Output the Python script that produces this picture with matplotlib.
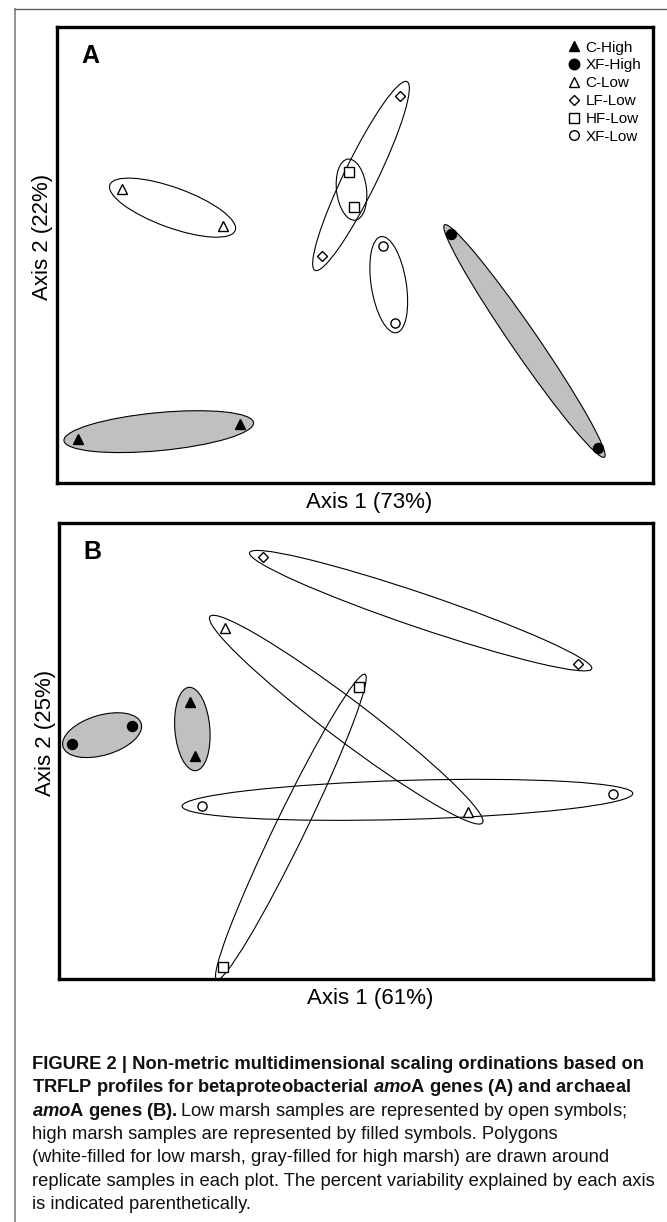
import numpy as np
import matplotlib
matplotlib.use('Agg')
import matplotlib.pyplot as plt
from matplotlib.patches import Ellipse
from matplotlib.lines import Line2D

# NMDS scores (arbitrary units), two replicates per group
groups = ['C-High', 'XF-High', 'C-Low', 'LF-Low', 'HF-Low', 'XF-Low']

a_x = [[20.9, 182.6], [394.0, 540.9], [65.1, 166.0], [343.0, 265.0], [292.4, 296.6], [325.6, 337.9]]
a_y = [[43.7, 59.0], [248.7, 35.3], [293.7, 257.0], [387.0, 227.0], [311.0, 275.7], [237.0, 159.7]]

b_x = [[131.2, 135.5], [13.3, 72.9], [165.7, 408.7], [204.4, 518.9], [299.7, 164.0], [143.1, 553.8]]
b_y = [[276.7, 223.3], [235.0, 252.7], [351.3, 167.3], [421.7, 315.0], [291.7, 12.3], [173.3, 185.0]]

a_axis = ['Axis 1 (73%)', 'Axis 2 (22%)']
b_axis = ['Axis 1 (61%)', 'Axis 2 (25%)']

# styles
marker_style = {
    'C-High': dict(marker='^', mfc='black', ms=7.4),
    'XF-High': dict(marker='o', mfc='black', ms=7.2),
    'C-Low': dict(marker='^', mfc='white', ms=6.8),
    'LF-Low': dict(marker='D', mfc='white', ms=5.2),
    'HF-Low': dict(marker='s', mfc='white', ms=6.8),
    'XF-Low': dict(marker='o', mfc='white', ms=6.6),
}
# extra half-length beyond the points, half-width of each ring
a_ring = [(14, 19), (11.5, 13), (13, 20), (16, 16.5), (13, 15), (9.5, 17.5)]
b_ring = [(15, 17.5), (9.7, 20), (18.5, 20), (14.6, 17), (14.4, 15), (20, 19.5)]

plt.rcParams['font.family'] = ['Liberation Sans', 'DejaVu Sans']
plt.rcParams['mathtext.fontset'] = 'custom'
plt.rcParams['mathtext.rm'] = 'Liberation Sans'
plt.rcParams['mathtext.it'] = 'Liberation Sans:italic'
plt.rcParams['mathtext.bf'] = 'Liberation Sans:bold'
plt.rcParams['mathtext.bfit'] = 'Liberation Sans:bold:italic'

W, H = 667, 1222
fig = plt.figure(figsize=(W / 100, H / 100), dpi=100)


def panel(left, top, right, bottom, xs, ys, rings, letter, labels, legend=False):
    ax = fig.add_axes([left / W, 1 - bottom / H, (right - left) / W, (bottom - top) / H])
    ax.set_xlim(0, right - left)
    ax.set_ylim(0, bottom - top)
    for i, g in enumerate(groups):
        x1, x2 = xs[i]
        y1, y2 = ys[i]
        pad, half = rings[i]
        dist = np.hypot(x2 - x1, y2 - y1)
        ang = np.degrees(np.arctan2(y2 - y1, x2 - x1))
        face = '#c0c0c0' if g.endswith('High') else 'none'
        ax.add_patch(Ellipse(((x1 + x2) / 2, (y1 + y2) / 2), dist + 2 * pad, 2 * half,
                             angle=ang, facecolor=face, edgecolor='black', lw=0.8, zorder=2))
    for i, g in enumerate(groups):
        st = marker_style[g]
        ax.plot(xs[i], ys[i], ls='none', marker=st['marker'], ms=st['ms'],
                mfc=st['mfc'], mec='black', mew=1.0, zorder=3)
    for s in ax.spines.values():
        s.set_linewidth(2.4)
    ax.set_xticks([])
    ax.set_yticks([])
    ax.text(0.041, 1 - 36 / (bottom - top), letter, transform=ax.transAxes,
            fontsize=18, fontweight='bold', va='baseline', ha='left')
    ax.text(0.524, -0.042, labels[0], transform=ax.transAxes, fontsize=16,
            ha='center', va='center')
    ax.text(-0.0235, 0.539, labels[1], transform=ax.transAxes, fontsize=16,
            rotation=90, ha='center', va='center')
    if legend:
        handles = [Line2D([], [], ls='none', marker=marker_style[g]['marker'],
                          ms=marker_style[g]['ms'] * 1.05, mfc=marker_style[g]['mfc'],
                          mec='black', mew=1.0) for g in groups]
        ax.legend(handles, groups, loc='upper left', bbox_to_anchor=(0.857, 0.970),
                  borderaxespad=0, borderpad=0, handlelength=0.8, handletextpad=0.35,
                  labelspacing=0.25, frameon=False, fontsize=11)
    return ax


panel(57, 27, 653, 483, a_x, a_y, a_ring, 'A', a_axis, legend=True)
panel(59, 523, 653, 979, b_x, b_y, b_ring, 'B', b_axis)

# page frame
fig.add_artist(Line2D([15 / W, 15 / W], [0, 1 - 9 / H], transform=fig.transFigure,
                      color='#808080', lw=1.2))
fig.add_artist(Line2D([15 / W, 1], [1 - 8.5 / H, 1 - 8.5 / H], transform=fig.transFigure,
                      color='#606060', lw=1.0))

caption = [
    ('FIGURE 2 | Non-metric multidimensional scaling ordinations based on', 'bold'),
    (r'TRFLP profiles for betaproteobacterial $\mathbfit{amo}$A genes (A) and archaeal', 'bold'),
    (r'$\mathbfit{amo}\mathbf{A\ genes\ (B).}$Low marsh samples are represented by open symbols;', 'normal'),
    ('high marsh samples are represented by filled symbols. Polygons', 'normal'),
    ('(white-filled for low marsh, gray-filled for high marsh) are drawn around', 'normal'),
    ('replicate samples in each plot. The percent variability explained by each axis', 'normal'),
    ('is indicated parenthetically.', 'normal'),
]

for k, (txt, wt) in enumerate(caption):
    base = 1069 + k * 23.3
    fig.text(32 / W, 1 - base / H, txt, fontsize=13.2, fontweight=wt,
             va='baseline', ha='left', color='#111111')

fig.savefig('out.png', dpi=100)
